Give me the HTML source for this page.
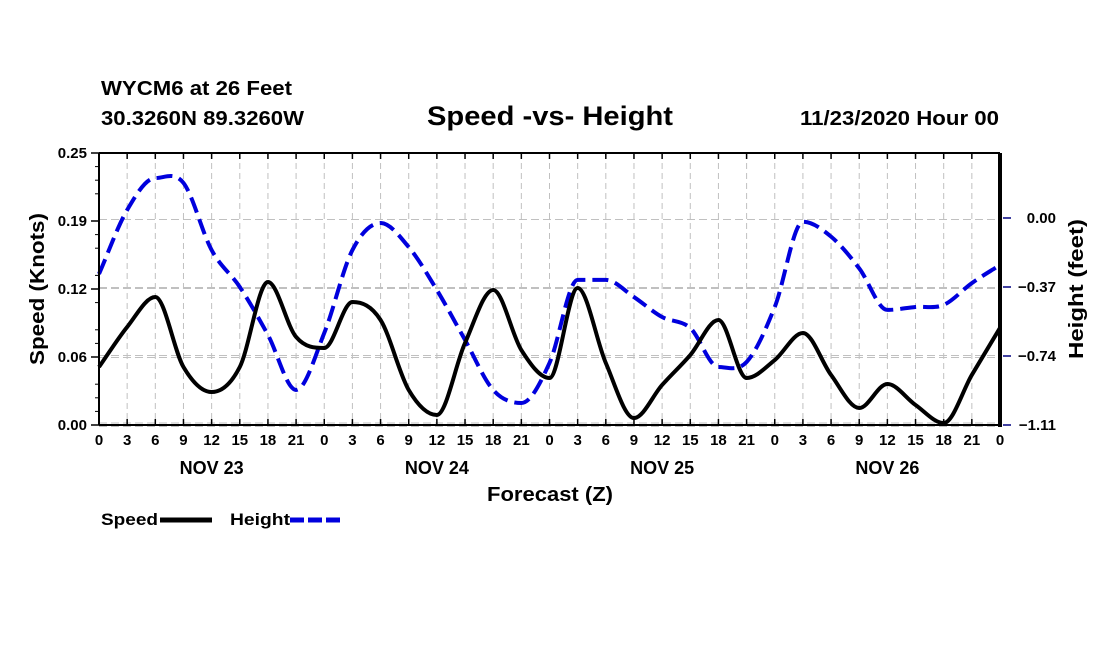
<!DOCTYPE html>
<html><head><meta charset="utf-8"><style>
html,body{margin:0;padding:0;background:#fff;}
svg{display:block;font-family:"Liberation Sans",sans-serif;font-weight:bold;}
</style></head><body>
<svg id="chart" width="1100" height="650" viewBox="0 0 1100 650">
<text x="101" y="95" font-size="20" textLength="191" lengthAdjust="spacingAndGlyphs">WYCM6 at 26 Feet</text>
<text x="101" y="125" font-size="20" textLength="203" lengthAdjust="spacingAndGlyphs">30.3260N 89.3260W</text>
<text x="427" y="125" font-size="27" textLength="246" lengthAdjust="spacingAndGlyphs">Speed -vs- Height</text>
<text x="800" y="125" font-size="20" textLength="199" lengthAdjust="spacingAndGlyphs">11/23/2020 Hour 00</text>
<g id="grid"></g><g id="series"></g><g id="axes"></g>
<text x="487" y="501" font-size="20" textLength="126" lengthAdjust="spacingAndGlyphs">Forecast (Z)</text>
<text transform="translate(44,289) rotate(-90)" font-size="20" text-anchor="middle" textLength="152" lengthAdjust="spacingAndGlyphs">Speed (Knots)</text>
<text transform="translate(1083,289) rotate(-90)" font-size="20" text-anchor="middle" textLength="140" lengthAdjust="spacingAndGlyphs">Height (feet)</text>
<g>
<text x="101" y="525" font-size="17" textLength="57" lengthAdjust="spacingAndGlyphs">Speed</text>
<line x1="160" y1="520" x2="212" y2="520" stroke="#000" stroke-width="5"/>
<text x="230" y="525" font-size="17" textLength="60" lengthAdjust="spacingAndGlyphs">Height</text>
<line x1="290" y1="520" x2="342" y2="520" stroke="#0000dd" stroke-width="5" stroke-dasharray="14,4"/>
</g>
</svg>
<script>
const hours=[0,3,6,9,12,15,18,21,24,27,30,33,36,39,42,45,48,51,54,57,60,63,66,69,72,75,78,81,84,87,90,93,96];
const speedValues=[0.0533,0.0901,0.1176,0.0533,0.0303,0.0533,0.1314,0.0809,0.0708,0.1130,0.0965,0.0322,0.0092,0.0754,0.1241,0.0689,0.0432,0.1259,0.0570,0.0064,0.0368,0.0643,0.0965,0.0432,0.0597,0.0846,0.0460,0.0156,0.0377,0.0184,0.0018,0.0460,0.0892];
const heightValues=[-0.300,0.043,0.214,0.188,-0.172,-0.370,-0.627,-0.922,-0.617,-0.172,-0.027,-0.156,-0.386,-0.654,-0.922,-0.992,-0.777,-0.332,-0.332,-0.424,-0.531,-0.590,-0.799,-0.772,-0.477,-0.020,-0.100,-0.270,-0.493,-0.477,-0.466,-0.349,-0.252];
const leftTicks=[0,0.0625,0.125,0.1875,0.25];
const leftTickLabels=["0.00","0.06","0.12","0.19","0.25"];
const rightTicks=[0,-0.37,-0.74,-1.11];
const rightTickLabels=["0.00","\u22120.37","\u22120.74","\u22121.11"];
const dayLabels=["NOV 23","NOV 24","NOV 25","NOV 26"];
const dayCenters=[12,36,60,84];

const X0=99,X1=1000,Y0=425,Y1=153;
const xs=h=>X0+(h/96)*(X1-X0);
const yL=v=>Y0-(v/0.25)*(Y0-Y1);
const HMIN=-1.11,HMAX=0.3485;
const yR=v=>Y0-((v-HMIN)/(HMAX-HMIN))*(Y0-Y1);
const NS="http://www.w3.org/2000/svg";
function mk(tag,attrs,parent){const e=document.createElementNS(NS,tag);for(const k in attrs)e.setAttribute(k,attrs[k]);parent.appendChild(e);return e;}
const grid=document.getElementById('grid'),axes=document.getElementById('axes'),ser=document.getElementById('series');

for(let h=0;h<=96;h+=3){
  const x=xs(h);
  if(h>0&&h<96){const g=mk('line',{x1:x,y1:Y1,x2:x,y2:Y0,stroke:'#c0c0c0','stroke-width':1,'stroke-dasharray':'6,4'},grid);
  
  }
  mk('line',{x1:x,y1:Y0,x2:x,y2:Y0-6,stroke:'#000','stroke-width':1.5},axes);
  mk('line',{x1:x,y1:Y1,x2:x,y2:Y1+6,stroke:'#000','stroke-width':1.5},axes);
  const t=mk('text',{x:x,y:Y0+20,'font-size':15,'text-anchor':'middle'},axes);
  t.textContent=String(h%24);
  
  
}
dayLabels.forEach((d,i)=>{const t=mk('text',{x:xs(dayCenters[i]),y:474,'font-size':18,'text-anchor':'middle'},axes);t.textContent=d;

});
leftTicks.forEach((v,i)=>{const y=yL(v);
  if(i>0&&i<leftTicks.length-1){const g=mk('line',{x1:X0,y1:y-1.5,x2:X1,y2:y-1.5,stroke:'#c0c0c0','stroke-dasharray':'8,4'},grid);}
  if(i===0){mk('line',{x1:X0,y1:y-2,x2:X1,y2:y-2,stroke:'#c0c0c0','stroke-dasharray':'8,4'},grid);}
  mk('line',{x1:X0-8,y1:y,x2:X0,y2:y,stroke:'#000','stroke-width':1.5},axes);
  const t=mk('text',{x:X0-12,y:y+5,'font-size':15,'text-anchor':'end'},axes);t.textContent=leftTickLabels[i];
  
  });
for(let k=0;k<=20;k++){if(k%4===0)continue;const y=Y0-k*(Y0-Y1)/20;mk('line',{x1:X0-4,y1:y,x2:X0,y2:y,stroke:'#000'},axes);}
rightTicks.forEach((v,i)=>{const y=yR(v);
  mk('line',{x1:X0,y1:y+1.5,x2:X1,y2:y+1.5,stroke:'#c0c0c0','stroke-dasharray':'8,4'},grid);
  mk('line',{x1:X1+3,y1:y,x2:X1+11,y2:y,stroke:'#000080','stroke-width':1.5},axes);
  const t=mk('text',{x:1056,y:y+5,'font-size':15,'text-anchor':'end'},axes);t.textContent=rightTickLabels[i];
  
  });
mk('line',{x1:X0,y1:Y0,x2:X1,y2:Y0,stroke:'#000','stroke-width':2},axes);
mk('line',{x1:X0,y1:Y1,x2:X1,y2:Y1,stroke:'#000','stroke-width':2},axes);
mk('line',{x1:X0,y1:Y1,x2:X0,y2:Y0,stroke:'#000','stroke-width':2},axes);
mk('line',{x1:X1,y1:Y1,x2:X1,y2:Y0+2,stroke:'#000','stroke-width':4},axes);

function path(pts){ // monotone cubic
  const n=pts.length,d=[],m=[];
  for(let i=0;i<n-1;i++)d.push((pts[i+1][1]-pts[i][1])/(pts[i+1][0]-pts[i][0]));
  m[0]=d[0];m[n-1]=d[n-2];
  for(let i=1;i<n-1;i++)m[i]=(d[i-1]*d[i]<=0)?0:(d[i-1]+d[i])/2;
  let s='M'+pts[0][0]+','+pts[0][1];
  for(let i=0;i<n-1;i++){const h=(pts[i+1][0]-pts[i][0])/3;
    s+=' C'+(pts[i][0]+h)+','+(pts[i][1]+m[i]*h)+' '+(pts[i+1][0]-h)+','+(pts[i+1][1]-m[i+1]*h)+' '+pts[i+1][0]+','+pts[i+1][1];}
  return s;}
const hp=mk('path',{d:path(hours.map((h,i)=>[xs(h),yR(heightValues[i])])),fill:'none',stroke:'#0000dd','stroke-width':4,'stroke-dasharray':'16,7'},ser);


const sp=mk('path',{d:path(hours.map((h,i)=>[xs(h),yL(speedValues[i])])),fill:'none',stroke:'#000','stroke-width':4,'stroke-linejoin':'round'},ser);


</script>
</body></html>
